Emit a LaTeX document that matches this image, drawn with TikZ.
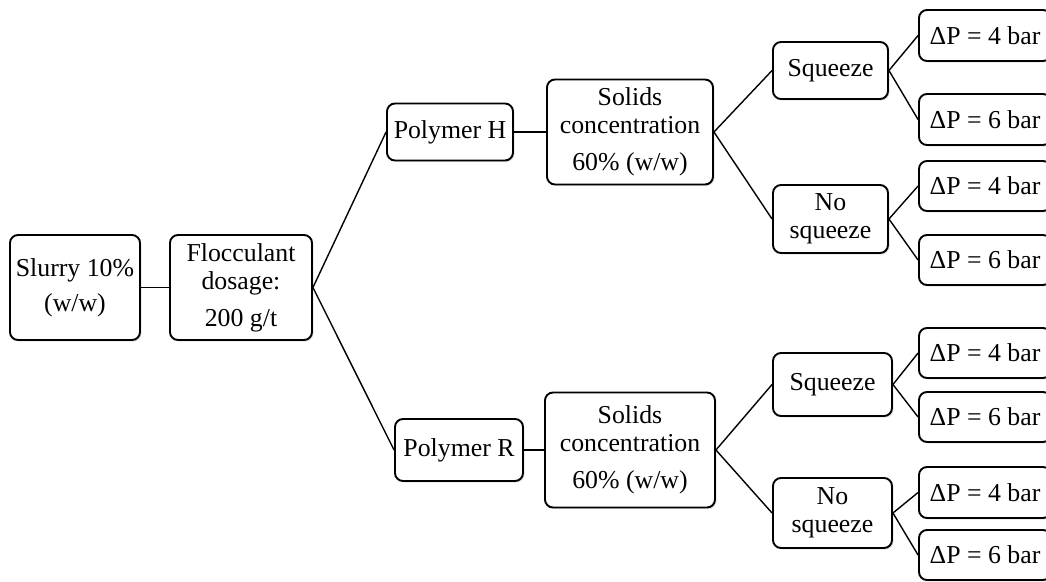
\documentclass[tikz,border=0pt]{standalone}
\usepackage{fontspec}
\setmainfont{Liberation Serif}
\usetikzlibrary{shadows}
\tikzset{
  box/.style={draw, line width=1.9pt, rounded corners=8pt, fill=white, align=center,
    inner sep=0pt, font=\fontsize{25.8}{28}\selectfont,
    drop shadow={opacity=0.22, shadow xshift=1.5pt, shadow yshift=-1.5pt}},
  link/.style={line width=1.4pt}
}
\begin{document}
\begin{tikzpicture}[x=1pt,y=-1pt]
\useasboundingbox (0,0) rectangle (1046,581);
\clip (0,0) rectangle (1046,581);
\node[box, minimum width=130pt, minimum height=105pt] (slurry) at (75,287.5) {Slurry 10\%\\[7pt](w/w)};
\node[box, minimum width=142pt, minimum height=105pt] (floc) at (241,287.5) {Flocculant\\dosage:\\[9pt]200 g/t};
\node[box, minimum width=126pt, minimum height=57pt] (polH) at (450,132) {Polymer H};
\node[box, minimum width=166pt, minimum height=105pt] (solH) at (630,132) {Solids\\concentration\\[9pt]60\% (w/w)};
\node[box, minimum width=128pt, minimum height=62pt] (polR) at (459,450) {Polymer R};
\node[box, minimum width=170pt, minimum height=115pt] (solR) at (630,450) {Solids\\concentration\\[9pt]60\% (w/w)};
\node[box, minimum width=115pt, minimum height=57pt] (sqT) at (830.5,70.5) {Squeeze};
\node[box, minimum width=115pt, minimum height=68pt] (nsqT) at (830.5,219) {No\\squeeze};
\node[box, minimum width=119pt, minimum height=63pt] (sqB) at (832.5,384.5) {Squeeze};
\node[box, minimum width=119pt, minimum height=70pt] (nsqB) at (832.5,513) {No\\squeeze};
\node[box, minimum width=132pt, minimum height=51pt] (p1) at (985,35.5) {ΔP = 4 bar};
\node[box, minimum width=132pt, minimum height=51pt] (p2) at (985,119.5) {ΔP = 6 bar};
\node[box, minimum width=132pt, minimum height=50pt] (p3) at (985,186) {ΔP = 4 bar};
\node[box, minimum width=132pt, minimum height=50pt] (p4) at (985,260) {ΔP = 6 bar};
\node[box, minimum width=132pt, minimum height=50pt] (p5) at (985,353) {ΔP = 4 bar};
\node[box, minimum width=132pt, minimum height=50pt] (p6) at (985,417) {ΔP = 6 bar};
\node[box, minimum width=132pt, minimum height=51pt] (p7) at (985,492.5) {ΔP = 4 bar};
\node[box, minimum width=132pt, minimum height=50pt] (p8) at (985,555) {ΔP = 6 bar};
\draw[link] (slurry.east) -- (floc.west);
\draw[link] (floc.east) -- (polH.west);
\draw[link] (floc.east) -- (polR.west);
\draw[link] (polH.east) -- (solH.west);
\draw[link] (polR.east) -- (solR.west);
\draw[link] (solH.east) -- (sqT.west);
\draw[link] (solH.east) -- (nsqT.west);
\draw[link] (solR.east) -- (sqB.west);
\draw[link] (solR.east) -- (nsqB.west);
\draw[link] (sqT.east) -- (p1.west);
\draw[link] (sqT.east) -- (p2.west);
\draw[link] (nsqT.east) -- (p3.west);
\draw[link] (nsqT.east) -- (p4.west);
\draw[link] (sqB.east) -- (p5.west);
\draw[link] (sqB.east) -- (p6.west);
\draw[link] (nsqB.east) -- (p7.west);
\draw[link] (nsqB.east) -- (p8.west);
\end{tikzpicture}
\end{document}
